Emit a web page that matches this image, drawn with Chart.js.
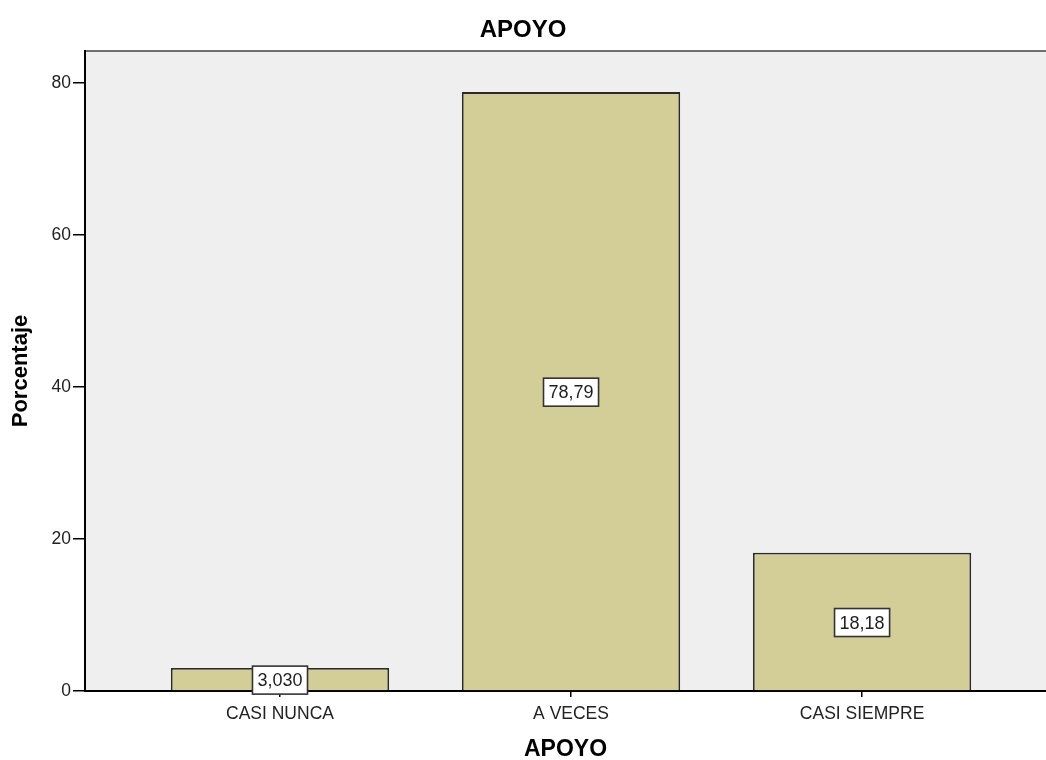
<!DOCTYPE html>
<html>
<head>
<meta charset="utf-8">
<script src="https://cdn.jsdelivr.net/npm/chart.js@4/dist/chart.umd.min.js"></script>
<style>
  html, body { margin: 0; padding: 0; background: #ffffff; }
  #wrap { width: 1046px; height: 760px; }
</style>
</head>
<body>
<div id="wrap"><canvas id="c" width="1046" height="760"></canvas></div>
<script>
// Distribución porcentual de la variable APOYO
const categories = ['CASI NUNCA', 'A VECES', 'CASI SIEMPRE'];
const percentages = [3.030, 78.79, 18.18];
const yTicks = [0, 20, 40, 60, 80];

const FONT = '"Liberation Sans", Arial, sans-serif';

// Valor con coma decimal y cuatro cifras significativas (3,030 / 78,79 / 18,18)
function formatValue(v) {
  return Number(v).toPrecision(4).replace('.', ',');
}

// Fondo gris del área de trazado y borde superior
const plotBackground = {
  id: 'plotBackground',
  beforeDraw(chart) {
    const { ctx, chartArea: a } = chart;
    ctx.save();
    ctx.fillStyle = '#efefef';
    ctx.fillRect(a.left, a.top, a.right - a.left, a.bottom - a.top);
    ctx.strokeStyle = '#6f6f6f';
    ctx.lineWidth = 2;
    ctx.beginPath();
    ctx.moveTo(a.left, a.top);
    ctx.lineTo(a.right, a.top);
    ctx.stroke();
    ctx.restore();
  }
};

// Etiquetas de valor en recuadro blanco, centradas en cada barra
const valueBoxes = {
  id: 'valueBoxes',
  afterDatasetsDraw(chart) {
    const { ctx } = chart;
    const meta = chart.getDatasetMeta(0);
    ctx.save();
    ctx.font = '18px ' + FONT;
    ctx.textAlign = 'center';
    ctx.textBaseline = 'middle';
    meta.data.forEach((bar, i) => {
      const text = formatValue(percentages[i]);
      const w = ctx.measureText(text).width + 10;
      const h = 28;
      const cx = bar.x;
      const cy = (bar.y + bar.base) / 2 + 1;
      ctx.fillStyle = '#ffffff';
      ctx.fillRect(cx - w / 2, cy - h / 2, w, h);
      ctx.strokeStyle = '#333333';
      ctx.lineWidth = 1.6;
      ctx.strokeRect(cx - w / 2, cy - h / 2, w, h);
      ctx.fillStyle = '#1e1e1e';
      ctx.fillText(text, cx, cy + 1);
    });
    ctx.restore();
  }
};

new Chart(document.getElementById('c'), {
  type: 'bar',
  data: {
    datasets: [{
      data: percentages.map((v, i) => ({ x: i, y: v })),
      backgroundColor: '#d3ce97',
      borderColor: '#2a2a2a',
      borderWidth: 1.8,
      barPercentage: 0.75,
      categoryPercentage: 1
    }]
  },
  options: {
    responsive: false,
    animation: false,
    layout: { padding: 0 },
    plugins: {
      legend: { display: false },
      tooltip: { enabled: false },
      title: {
        display: true,
        text: 'APOYO',
        color: '#000000',
        font: { family: FONT, size: 24, weight: 'bold', lineHeight: 1.2 },
        padding: { top: 16, bottom: 6.2 }
      }
    },
    scales: {
      x: {
        type: 'linear',
        offset: false,
        min: -0.67,
        max: 2.632,
        afterBuildTicks(scale) {
          scale.ticks = categories.map((_, i) => ({ value: i }));
        },
        afterFit(scale) { scale.height = 69; },
        ticks: {
          callback: (v) => categories[v],
          color: '#222222',
          font: { family: FONT, size: 17.5 },
          padding: 7,
          maxRotation: 0,
          autoSkip: false
        },
        grid: {
          offset: false,
          drawOnChartArea: false,
          drawTicks: true,
          tickLength: 6,
          color: '#000000',
          lineWidth: 1.5
        },
        border: { display: true, color: '#000000', width: 2 },
        title: {
          display: true,
          text: 'APOYO',
          color: '#000000',
          font: { family: FONT, size: 23, weight: 'bold', lineHeight: 1 },
          padding: { top: 0, bottom: -1 }
        }
      },
      y: {
        min: 0,
        max: 84.2,
        afterBuildTicks(scale) {
          scale.ticks = yTicks.map((v) => ({ value: v }));
        },
        afterFit(scale) { scale.width = 85; },
        ticks: {
          color: '#222222',
          font: { family: FONT, size: 17.5 },
          padding: 2
        },
        grid: {
          drawOnChartArea: false,
          drawTicks: true,
          tickLength: 12,
          color: '#000000',
          lineWidth: 1.5
        },
        border: { display: true, color: '#000000', width: 2 },
        title: {
          display: true,
          text: 'Porcentaje',
          color: '#000000',
          font: { family: FONT, size: 22, weight: 'bold', lineHeight: 1.2 },
          padding: { top: 8, bottom: 0 }
        }
      }
    }
  },
  plugins: [plotBackground, valueBoxes]
});
</script>
</body>
</html>
